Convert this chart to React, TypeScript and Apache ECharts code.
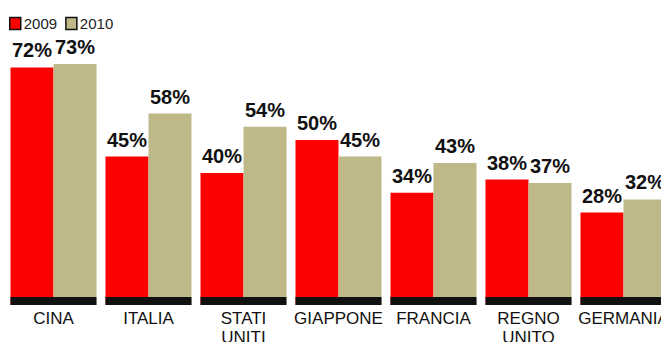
import React, { useEffect, useRef } from "react";
import * as echarts from "echarts";

const categories = ["CINA", "ITALIA", "STATI\nUNITI", "GIAPPONE", "FRANCIA", "REGNO\nUNITO", "GERMANIA"];
const values2009 = [72, 45, 40, 50, 34, 38, 28];
const values2010 = [73, 58, 54, 45, 43, 37, 32];
const seriesNames = ["2009", "2010"];

const RED = "#fd0000";
const OLIVE = "#bfb98a";
const NARROW = "'Liberation Sans Narrow', 'Arial Narrow', 'Liberation Sans', sans-serif";

export default function App() {
  const ref = useRef<HTMLDivElement>(null);
  useEffect(() => {
    const chart = echarts.init(ref.current!, undefined, { renderer: "svg" });
    const label = {
      show: true,
      position: "top" as const,
      distance: 7,
      formatter: "{c}%",
      color: "#111",
      fontWeight: "bold" as const,
      fontSize: 20,
      fontFamily: "'Liberation Sans', Arial, sans-serif",
    };
    chart.setOption({
      animation: false,
      backgroundColor: "#ffffff",
      legend: {
        left: 4,
        top: 11,
        itemWidth: 11,
        itemHeight: 12,
        itemGap: 8,
        icon: "rect",
        data: seriesNames,
        itemStyle: { borderColor: "#111", borderWidth: 1.5 },
        textStyle: { fontSize: 15, color: "#222", fontFamily: NARROW, padding: [0, 0, 0, -2] },
      },
      grid: {
        left: 10 - 4,
        width: 95 * 7,
        top: 41,
        height: 264,
        containLabel: false,
        outerBoundsMode: "none",
      },
      xAxis: {
        type: "category",
        data: categories,
        axisLine: { show: false },
        axisTick: { show: false },
        axisLabel: {
          interval: 0,
          margin: 4,
          color: "#111",
          fontSize: 17,
          lineHeight: 19,
          fontFamily: NARROW,
        },
      },
      yAxis: { type: "value", min: 0, max: 80, show: false, splitLine: { show: false } },
      series: [
        {
          name: seriesNames[0],
          type: "bar",
          data: values2009,
          barWidth: 43,
          barGap: "0%",
          itemStyle: { color: RED },
          label,
        },
        {
          name: seriesNames[1],
          type: "bar",
          data: values2010,
          barWidth: 43,
          barGap: "0%",
          itemStyle: { color: OLIVE },
          label,
        },
        {
          type: "custom",
          silent: true,
          z: 5,
          data: categories.map((_, i) => [i, 0]),
          renderItem: (params: any, api: any) => {
            const c = api.coord([api.value(0), 0]);
            const bw = api.size([1, 0])[0];
            const w = bw * 0.905;
            return {
              type: "rect",
              shape: { x: c[0] - w / 2, y: c[1] - 8, width: w, height: 8 },
              style: { fill: "#111" },
            };
          },
        },
      ],
    });
    return () => chart.dispose();
  }, []);
  return (
    <div
      ref={ref}
      style={{ position: "absolute", left: 0, top: 0, width: 661, height: 342, overflow: "hidden" }}
    />
  );
}
